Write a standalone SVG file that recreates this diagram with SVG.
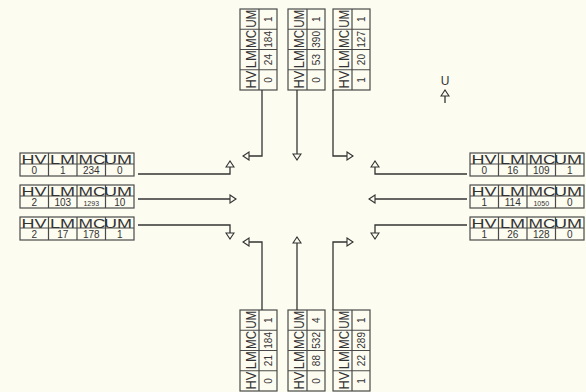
<svg xmlns="http://www.w3.org/2000/svg" xmlns:xlink="http://www.w3.org/1999/xlink" width="586" height="392" viewBox="0 0 586 392">
<style>
.cell{fill:none;stroke:#4a4a4a;stroke-width:1.2}
.hdr{font-family:"Liberation Sans",Arial,sans-serif;font-size:12px;fill:#333}
.vhdr{font-family:"Liberation Sans",Arial,sans-serif;font-size:15px;fill:#333}
.val{font-family:"Liberation Sans",Arial,sans-serif;font-size:10px;fill:#333;text-anchor:middle}
.sm{font-size:7px}
.conn{fill:none;stroke:#333;stroke-width:1.3;marker-end:url(#ah)}
</style>
<defs>
<marker id="ah" markerUnits="userSpaceOnUse" markerWidth="10" markerHeight="10" viewBox="-1 -5 8 10" refX="6" refY="0" orient="auto">
<path d="M0,-4 L6,0 L0,4 Z" fill="#FDFCF1" stroke="#333" stroke-width="1.1"/>
</marker>
<g id="hframe">
<rect class="cell" x="0" y="0" width="114" height="23"/>
<path class="cell" d="M0,11H114M28.5,0V23M57,0V23M85.5,0V23"/>
<text class="hdr" x="1.5" y="10.5" textLength="25" lengthAdjust="spacingAndGlyphs">HV</text>
<text class="hdr" x="30" y="10.5" textLength="25" lengthAdjust="spacingAndGlyphs">LM</text>
<text class="hdr" x="58.5" y="10.5" textLength="27" lengthAdjust="spacingAndGlyphs">MC</text>
<text class="hdr" x="84" y="10.5" textLength="28" lengthAdjust="spacingAndGlyphs">UM</text>
</g>
<g id="vframe">
<rect class="cell" x="0" y="0" width="37" height="81"/>
<path class="cell" d="M19,0V81M0,20.25H37M0,40.5H37M0,60.75H37"/>
<text class="vhdr" transform="translate(16,79.5) rotate(-90)" textLength="18" lengthAdjust="spacingAndGlyphs">HV</text>
<text class="vhdr" transform="translate(16,59.25) rotate(-90)" textLength="18" lengthAdjust="spacingAndGlyphs">LM</text>
<text class="vhdr" transform="translate(16,39) rotate(-90)" textLength="18" lengthAdjust="spacingAndGlyphs">MC</text>
<text class="vhdr" transform="translate(16,18.75) rotate(-90)" textLength="18" lengthAdjust="spacingAndGlyphs">UM</text>
</g>
</defs>
<rect x="0" y="0" width="586" height="392" fill="#FDFCF1"/>

<g id="top-1" transform="translate(240,9)">
<use xlink:href="#vframe"/>
<text class="val" transform="translate(31.5,70.9) rotate(-90)">0</text>
<text class="val" transform="translate(31.5,50.6) rotate(-90)">24</text>
<text class="val" transform="translate(31.5,30.4) rotate(-90)">184</text>
<text class="val" transform="translate(31.5,10.1) rotate(-90)">1</text>
</g>
<g id="top-2" transform="translate(288,9)">
<use xlink:href="#vframe"/>
<text class="val" transform="translate(31.5,70.9) rotate(-90)">0</text>
<text class="val" transform="translate(31.5,50.6) rotate(-90)">53</text>
<text class="val" transform="translate(31.5,30.4) rotate(-90)">390</text>
<text class="val" transform="translate(31.5,10.1) rotate(-90)">1</text>
</g>
<g id="top-3" transform="translate(333,9)">
<use xlink:href="#vframe"/>
<text class="val" transform="translate(31.5,70.9) rotate(-90)">1</text>
<text class="val" transform="translate(31.5,50.6) rotate(-90)">20</text>
<text class="val" transform="translate(31.5,30.4) rotate(-90)">127</text>
<text class="val" transform="translate(31.5,10.1) rotate(-90)">1</text>
</g>
<g id="bottom-1" transform="translate(240,310)">
<use xlink:href="#vframe"/>
<text class="val" transform="translate(31.5,70.9) rotate(-90)">0</text>
<text class="val" transform="translate(31.5,50.6) rotate(-90)">21</text>
<text class="val" transform="translate(31.5,30.4) rotate(-90)">184</text>
<text class="val" transform="translate(31.5,10.1) rotate(-90)">1</text>
</g>
<g id="bottom-2" transform="translate(288,310)">
<use xlink:href="#vframe"/>
<text class="val" transform="translate(31.5,70.9) rotate(-90)">0</text>
<text class="val" transform="translate(31.5,50.6) rotate(-90)">88</text>
<text class="val" transform="translate(31.5,30.4) rotate(-90)">532</text>
<text class="val" transform="translate(31.5,10.1) rotate(-90)">4</text>
</g>
<g id="bottom-3" transform="translate(333,310)">
<use xlink:href="#vframe"/>
<text class="val" transform="translate(31.5,70.9) rotate(-90)">1</text>
<text class="val" transform="translate(31.5,50.6) rotate(-90)">22</text>
<text class="val" transform="translate(31.5,30.4) rotate(-90)">289</text>
<text class="val" transform="translate(31.5,10.1) rotate(-90)">1</text>
</g>

<g id="left-1" transform="translate(20,153)">
<use xlink:href="#hframe"/>
<text class="val" x="14.25" y="21">0</text>
<text class="val" x="42.75" y="21">1</text>
<text class="val" x="71.25" y="21">234</text>
<text class="val" x="99.75" y="21">0</text>
</g>
<g id="left-2" transform="translate(20,185)">
<use xlink:href="#hframe"/>
<text class="val" x="14.25" y="21">2</text>
<text class="val" x="42.75" y="21">103</text>
<text class="val sm" x="71.25" y="20.5">1293</text>
<text class="val" x="99.75" y="21">10</text>
</g>
<g id="left-3" transform="translate(20,217)">
<use xlink:href="#hframe"/>
<text class="val" x="14.25" y="21">2</text>
<text class="val" x="42.75" y="21">17</text>
<text class="val" x="71.25" y="21">178</text>
<text class="val" x="99.75" y="21">1</text>
</g>
<g id="right-1" transform="translate(470,153)">
<use xlink:href="#hframe"/>
<text class="val" x="14.25" y="21">0</text>
<text class="val" x="42.75" y="21">16</text>
<text class="val" x="71.25" y="21">109</text>
<text class="val" x="99.75" y="21">1</text>
</g>
<g id="right-2" transform="translate(470,185)">
<use xlink:href="#hframe"/>
<text class="val" x="14.25" y="21">1</text>
<text class="val" x="42.75" y="21">114</text>
<text class="val sm" x="71.25" y="20.5">1050</text>
<text class="val" x="99.75" y="21">0</text>
</g>
<g id="right-3" transform="translate(470,217)">
<use xlink:href="#hframe"/>
<text class="val" x="14.25" y="21">1</text>
<text class="val" x="42.75" y="21">26</text>
<text class="val" x="71.25" y="21">128</text>
<text class="val" x="99.75" y="21">0</text>
</g>

<g id="north">
<text x="445" y="85" font-family="'Liberation Sans',Arial,sans-serif" font-size="12" fill="#333" text-anchor="middle">U</text>
<path d="M445,103V90" class="conn"/>
</g>

<g id="connectors">
<path class="conn" d="M262,90V156H243"/>
<path class="conn" d="M297,90V160"/>
<path class="conn" d="M333,90V156H353"/>
<path class="conn" d="M262,310V242H243"/>
<path class="conn" d="M297,310V237"/>
<path class="conn" d="M333,310V242H353"/>
<path class="conn" d="M138,174H230V161"/>
<path class="conn" d="M138,199H236"/>
<path class="conn" d="M138,225H230V239"/>
<path class="conn" d="M467,174H375V161"/>
<path class="conn" d="M467,199H369"/>
<path class="conn" d="M467,225H375V239"/>
</g>
</svg>
